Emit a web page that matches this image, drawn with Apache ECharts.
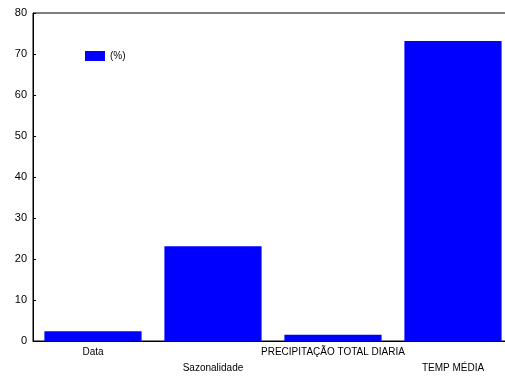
<!DOCTYPE html>
<html><head><meta charset="utf-8">
<script src="https://cdn.jsdelivr.net/npm/echarts@6/dist/echarts.min.js"></script>
<style>html,body{margin:0;padding:0;background:#fff;overflow:hidden}#c{width:513px;height:376px}</style>
</head><body><div id="c"></div>
<script>
const categories = ['Data', 'Sazonalidade', 'PRECIPITAÇÃO TOTAL DIARIA', 'TEMP MÉDIA'];
const values = [2.4, 23.1, 1.5, 73.2];
const seriesName = '(%)';
const yTicks = [0, 10, 20, 30, 40, 50, 60, 70, 80];

const chart = echarts.init(document.getElementById('c'), null, {renderer: 'canvas'});
chart.setOption({
  animation: false,
  backgroundColor: '#fff',
  textStyle: {fontFamily: 'Liberation Sans, Arial, sans-serif'},
  grid: {left: 33, right: 0, top: 13, bottom: 31, show: true, borderColor: '#000', borderWidth: 1, backgroundColor: 'transparent'},
  legend: {
    left: 85, top: 51, padding: 0, itemWidth: 20, itemHeight: 10, icon: 'rect',
    textStyle: {fontSize: 10, color: '#000', fontFamily: 'Liberation Sans, Arial, sans-serif'},
    data: [seriesName]
  },
  xAxis: {
    type: 'category', data: categories,
    axisLine: {lineStyle: {color: '#000', width: 1}},
    axisTick: {inside: true, length: 3, lineStyle: {color: '#000'}},
    axisLabel: {
      color: '#000', fontSize: 10, margin: 3, interval: 0, lineHeight: 16,
      formatter: (v, i) => (i % 2 ? '\n' + v : v)
    }
  },
  yAxis: {
    type: 'value', min: 0, max: 80, interval: 10,
    axisLine: {show: true, lineStyle: {color: '#000', width: 1}},
    axisTick: {show: true, inside: true, length: 3, lineStyle: {color: '#000'}},
    splitLine: {show: false},
    axisLabel: {color: '#000', fontSize: 11, margin: 6,
      formatter: v => yTicks.includes(v) ? String(v) : ''}
  },
  series: [{
    name: seriesName, type: 'bar', data: values, barWidth: '81%',
    itemStyle: {color: '#0000ff'}
  }]
});
</script></body></html>
